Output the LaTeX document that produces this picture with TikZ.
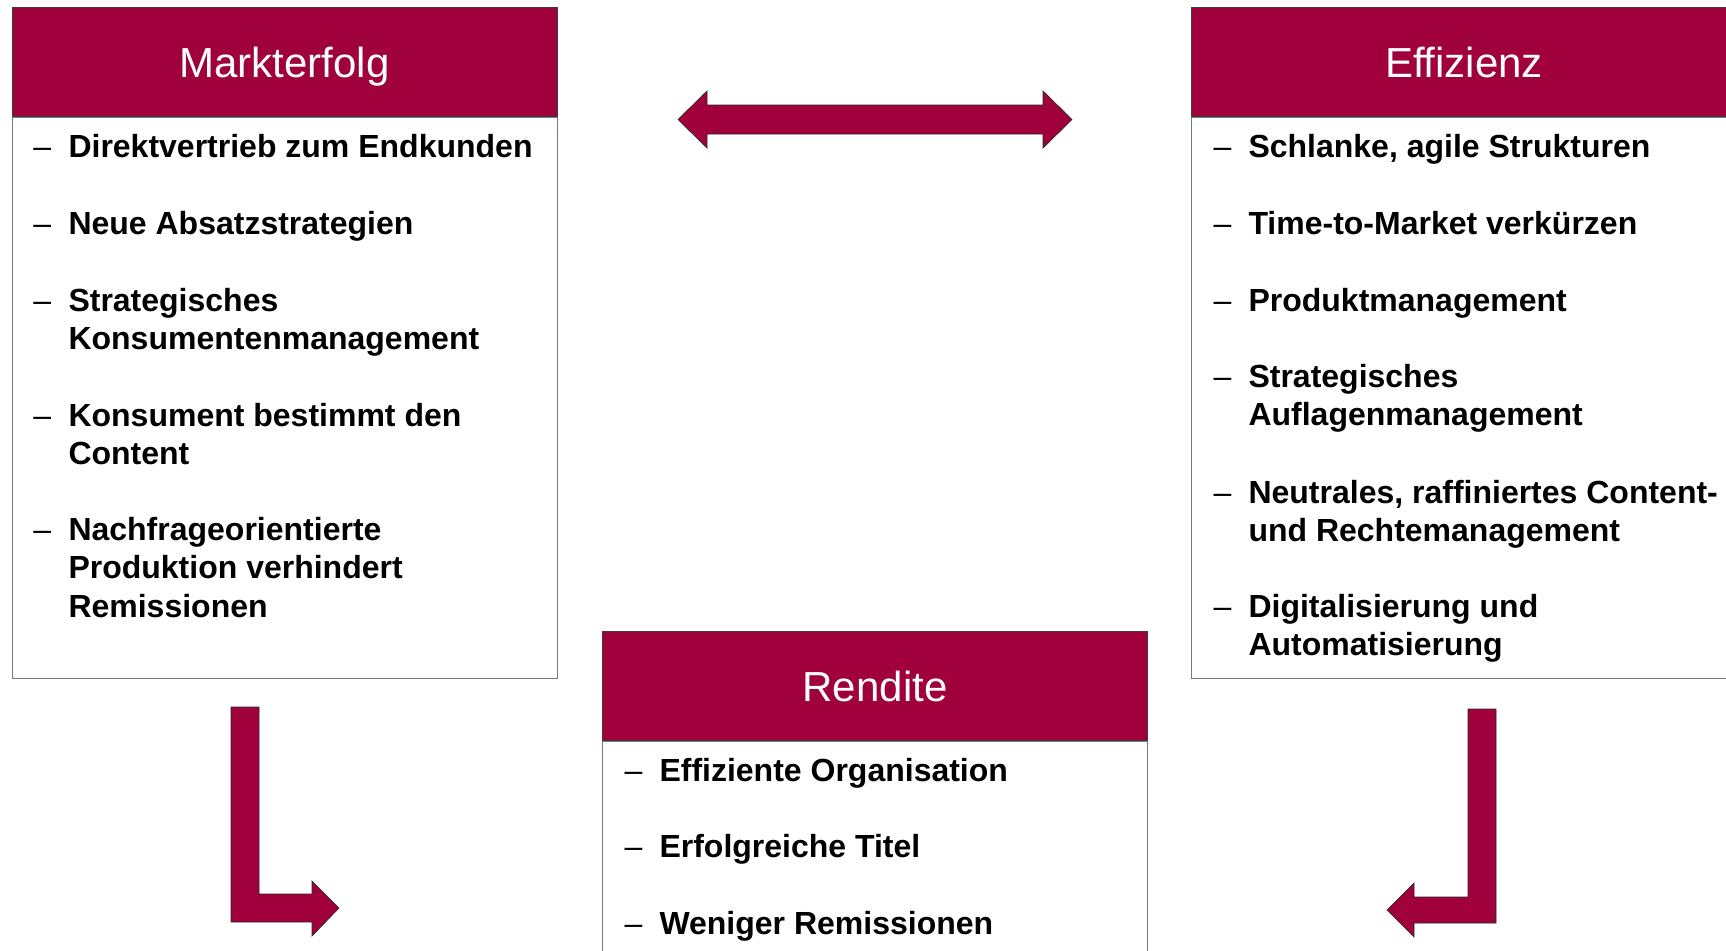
\documentclass[tikz,border=0pt]{standalone}
\usepackage{fontspec}
\setmainfont{Liberation Sans}

\definecolor{weinrot}{RGB}{160,0,60}

\tikzset{every picture/.style={line width=0.75pt}}
\tikzset{
  kopf/.style={draw={rgb, 255:red, 60; green, 60; blue, 60}, fill=weinrot, text=white, font=\fontsize{31.5}{36}\selectfont, minimum width=408.75pt, minimum height=81.75pt, text height=22.5pt, text depth=0pt, inner sep=0pt},
  rumpf/.style={draw={rgb, 255:red, 120; green, 120; blue, 120}, fill=white, minimum width=408.75pt, inner sep=0pt},
  strich/.style={anchor=base west, inner sep=0pt, font=\fontsize{24}{28.8}\selectfont},
  % base of a multi-line node is its last line
  punkt/.style={anchor=base west, inner sep=0pt, align=left, font=\bfseries\fontsize{24}{28.8}\selectfont},
  blockpfeil/.style={draw={rgb, 255:red, 40; green, 40; blue, 40}, fill=weinrot, line width=0.5pt}
}

\begin{document}
\begin{tikzpicture}[x=0.75pt,y=0.75pt,yscale=-1,xscale=1]
    \useasboundingbox (0,0) rectangle (1726,950);
    \clip (0,0) rectangle (1726,950);

    % Markterfolg
    \node[rumpf, minimum height=420.75pt, anchor=north] (mrumpf) at (284.5,117) {};
    \node[kopf, anchor=south] (mkopf) at (mrumpf.north) {Markterfolg};
    \node[strich] (m1s) at (33,157) {–};
    \node[punkt] (m1) at (68,157) {Direktvertrieb zum Endkunden};
    \node[strich] (m2s) at (33,234.5) {–};
    \node[punkt] (m2) at (68,234.5) {Neue Absatzstrategien};
    \node[strich] (m3s) at (33,311) {–};
    \node[punkt] (m3) at (68,349.4) {Strategisches\\Konsumentenmanagement};
    \node[strich] (m4s) at (33,426) {–};
    \node[punkt] (m4) at (68,464.4) {Konsument bestimmt den\\Content};
    \node[strich] (m5s) at (33,540.5) {–};
    \node[punkt] (m5) at (68,617.3) {Nachfrageorientierte\\Produktion verhindert\\Remissionen};

    % Effizienz
    \node[rumpf, minimum height=420.75pt, anchor=north] (erumpf) at (1464,117) {};
    \node[kopf, anchor=south] (ekopf) at (erumpf.north) {Effizienz};
    \node[strich] (e1s) at (1213,157) {–};
    \node[punkt] (e1) at (1248,157) {Schlanke, agile Strukturen};
    \node[strich] (e2s) at (1213,234.5) {–};
    \node[punkt] (e2) at (1248,234.5) {Time-to-Market verkürzen};
    \node[strich] (e3s) at (1213,311.5) {–};
    \node[punkt] (e3) at (1248,311.5) {Produktmanagement};
    \node[strich] (e4s) at (1213,387.5) {–};
    \node[punkt] (e4) at (1248,425.9) {Strategisches\\Auflagenmanagement};
    \node[strich] (e5s) at (1213,503) {–};
    \node[punkt] (e5) at (1248,541.4) {Neutrales, raffiniertes Content-\\und Rechtemanagement};
    \node[strich] (e6s) at (1213,617.5) {–};
    \node[punkt] (e6) at (1248,655.9) {Digitalisierung und\\Automatisierung};

    % Rendite
    \node[rumpf, minimum height=194.25pt, anchor=north] (rrumpf) at (875,741) {};
    \node[kopf, anchor=south] (rkopf) at (rrumpf.north) {Rendite};
    \node[strich] (r1s) at (624,781.5) {–};
    \node[punkt] (r1) at (659,781.5) {Effiziente Organisation};
    \node[strich] (r2s) at (624,857.5) {–};
    \node[punkt] (r2) at (659,857.5) {Erfolgreiche Titel};
    \node[strich] (r3s) at (624,934.5) {–};
    \node[punkt] (r3) at (659,934.5) {Weniger Remissionen};

    % Doppelpfeil
    \draw[blockpfeil] (678,119.5) -- (707,91) -- (707,105) -- (1043,105) -- (1043,91) -- (1072,119.5) -- (1043,148) -- (1043,134) -- (707,134) -- (707,148) -- cycle ;
    % Winkelpfeil links
    \draw[blockpfeil] (231,707) -- (259,707) -- (259,894) -- (312,894) -- (312,881) -- (339,908) -- (312,936) -- (312,922) -- (231,922) -- cycle ;
    % Winkelpfeil rechts
    \draw[blockpfeil] (1468,709) -- (1496,709) -- (1496,923) -- (1414,923) -- (1414,937) -- (1387,910) -- (1414,883) -- (1414,897) -- (1468,897) -- cycle ;

\end{tikzpicture}
\end{document}
